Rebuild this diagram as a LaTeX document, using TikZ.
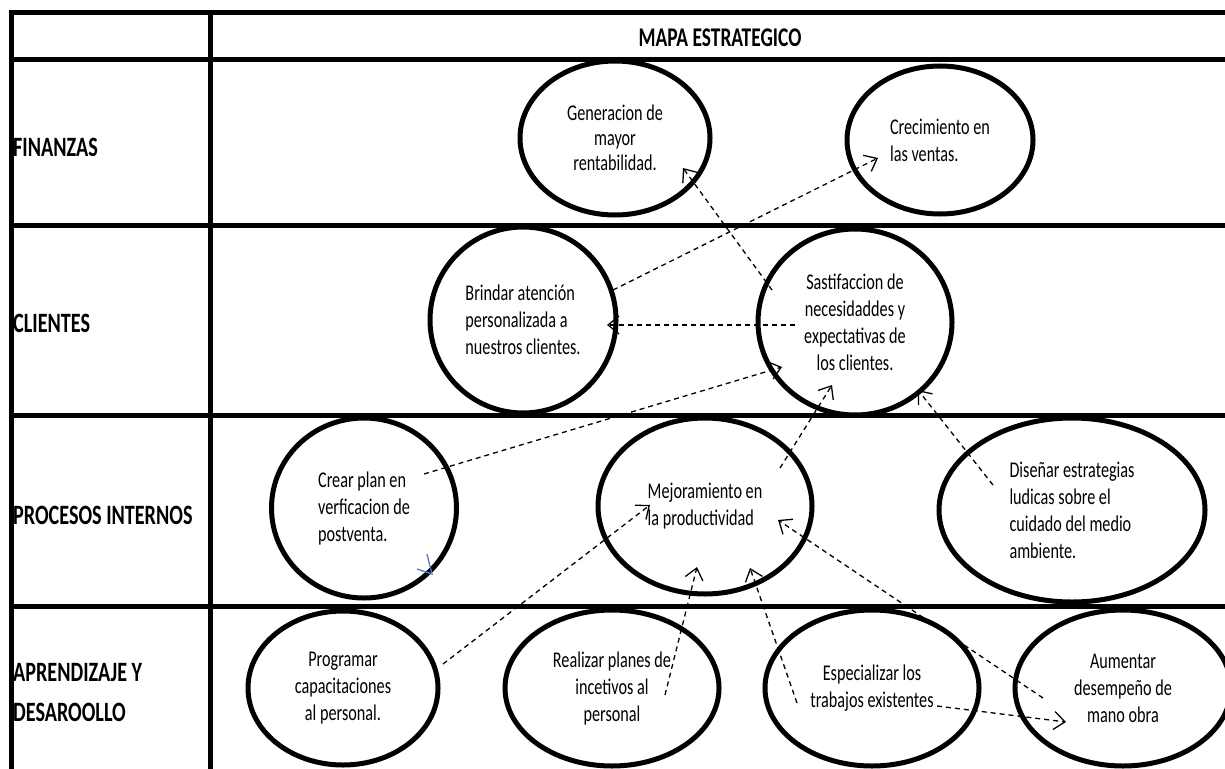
\documentclass[tikz,border=0pt]{standalone}
\usepackage{fontspec}
\setmainfont{Carlito}[FakeStretch=0.72]
\usetikzlibrary{shapes.geometric,arrows.meta}
\definecolor{tickblue}{HTML}{4F81BD}
\begin{document}
\begin{tikzpicture}[x=1pt,y=-1pt,
    grid/.style={line width=5pt, line cap=rect},
    goal/.style={shape=ellipse, draw=black, line width=5pt, inner sep=0pt, align=center,
      font=\fontsize{22.5}{27}\selectfont},
    rowlabel/.style={anchor=west, inner sep=0pt, align=left, font=\fontsize{28}{40}\selectfont\bfseries},
    link/.style={line width=1.3pt, dash pattern=on 5pt off 4pt,
      -{Straight Barb[length=11pt,width=18pt]}}]
      \useasboundingbox (0,0) rectangle (1225,768);
      \fill[white] (0,0) rectangle (1225,768);

      \draw[grid] (11,13) -- (1230,13);
      \draw[grid] (11,60) -- (1230,60);
      \draw[grid] (11,225) -- (1230,225);
      \draw[grid] (11,415) -- (1230,415);
      \draw[grid] (11,606) -- (1230,606);
      \draw[grid] (11,13) -- (11,775);
      \draw[grid] (210,13) -- (210,775);

      \node[inner sep=0pt, font=\fontsize{27}{28}\selectfont\bfseries] (hdr) at (720,38) {MAPA ESTRATEGICO};
      \node[rowlabel] (fin) at (13,147) {FINANZAS};
      \node[rowlabel] (cli) at (13,323) {CLIENTES};
      \node[rowlabel] (proc) at (13,515) {PROCESOS INTERNOS};
      \node[rowlabel] (apr) at (13,693) {APRENDIZAJE Y\\DESAROOLLO};

      \node[goal, minimum width=190pt, minimum height=154pt, font=\fontsize{22.5}{25}\selectfont] (gen) at (615,138) {Generacion de\\mayor\\rentabilidad.};
      \node[goal, minimum width=186pt, minimum height=148pt, align=left] (crec) at (940,140) {Crecimiento en\\las ventas.};
      \node[goal, minimum width=186pt, minimum height=186pt, align=left] (brin) at (523,320) {Brindar atención\\personalizada a\\nuestros clientes.};
      \node[goal, minimum width=194pt, minimum height=186pt] (sast) at (855,322) {Sastifaccion de\\necesidaddes y\\expectativas de\\los clientes.};
      \node[goal, minimum width=185pt, minimum height=180pt, align=left] (crear) at (364,508) {Crear plan en\\verficacion de\\postventa.};
      \node[goal, minimum width=214pt, minimum height=176pt, align=left] (mejor) at (705,506) {Mejoramiento en\\la productividad};
      \node[goal, minimum width=266pt, minimum height=184pt, align=left] (disen) at (1072,510) {Diseñar estrategias\\ludicas sobre el\\cuidado del medio\\ambiente.};
      \node[goal, minimum width=190pt, minimum height=154pt] (prog) at (343,688) {Programar\\capacitaciones\\al personal.};
      \node[goal, minimum width=214pt, minimum height=156pt] (real) at (612,688) {Realizar planes de\\incetivos al\\personal};
      \node[goal, minimum width=214pt, minimum height=156pt] (espec) at (872,688) {Especializar los\\trabajos existentes};
      \node[goal, minimum width=216pt, minimum height=156pt] (aum) at (1123,688) {Aumentar\\desempeño de\\mano obra};

      \draw[link] ([shift={(-83,-32)}]sast.center) -- ([shift={(68,30)}]gen.center);
      \draw[link] ([shift={(90,-30)}]brin.center) -- ([shift={(-62,18)}]crec.center);
      \draw[link] ([shift={(-60,3)}]sast.center) -- ([shift={(84,5)}]brin.center);
      \draw[link] ([shift={(60,-34)}]crear.center) -- ([shift={(-73,45)}]sast.center);
      \draw[link] ([shift={(75,-38)}]mejor.center) -- ([shift={(-23,63)}]sast.center);
      \draw[link] ([shift={(-79,-25)}]disen.center) -- ([shift={(63,68)}]sast.center);
      \draw[link] ([shift={(100,-24)}]prog.center) -- ([shift={(-55,-1)}]mejor.center);
      \draw[link] ([shift={(53,7)}]real.center) -- ([shift={(-8,61)}]mejor.center);
      \draw[link] ([shift={(-75,15)}]espec.center) -- ([shift={(45,62)}]mejor.center);
      \draw[link] ([shift={(-80,10)}]aum.center) -- ([shift={(73,14)}]mejor.center);
      \draw[link] ([shift={(65,18)}]espec.center) -- ([shift={(-57,34)}]aum.center);

      \draw[tickblue, line width=1.3pt] ([shift={(63,46)}]crear.center) -- ([shift={(68,66)}]crear.center) -- ([shift={(53,61)}]crear.center);
\end{tikzpicture}
\end{document}
